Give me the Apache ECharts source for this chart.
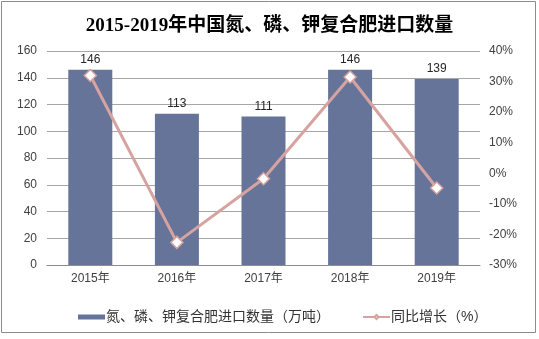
<!DOCTYPE html>
<html>
<head>
<meta charset="utf-8">
<script src="https://cdn.jsdelivr.net/npm/echarts@6/dist/echarts.min.js"></script>
<style>
  html, body { margin: 0; padding: 0; background: #fff; }
  #chart { width: 539px; height: 339px; }
</style>
</head>
<body>
<div id="chart"></div>
<script>
// Years shown on the category axis
const years = ['2015年', '2016年', '2017年', '2018年', '2019年'];
// Import volume, 10k tonnes
const importVolume = [146, 113, 111, 146, 139];
// Year-on-year growth, percent
const growthRate = [32, -22.6, -1.8, 31.5, -4.8];
// Axis tick settings
const leftAxis = { min: 0, max: 160, interval: 20 };
const rightAxis = { min: -30, max: 40, interval: 10 };

const barName = '氮、磷、钾复合肥进口数量（万吨）';
const lineName = '同比增长（%）';

const chart = echarts.init(document.getElementById('chart'), null, { renderer: 'canvas' });
const labelFont = 'Arial, "Liberation Sans", "Noto Sans CJK SC", sans-serif';

chart.setOption({
  animation: false,
  backgroundColor: '#ffffff',
  title: {
    text: '2015-2019年中国氮、磷、钾复合肥进口数量',
    left: 'center',
    top: 12,
    textStyle: {
      fontFamily: '"Liberation Serif", "Noto Sans CJK SC", serif',
      fontWeight: 'bold',
      fontSize: 19,
      color: '#000000'
    }
  },
  graphic: [{
    type: 'rect',
    shape: { x: 1.5, y: 1.5, width: 534, height: 331 },
    style: { fill: 'none', stroke: '#8c8c8c', lineWidth: 1 },
    silent: true
  }],
  grid: { left: 47, right: 59, top: 51, bottom: 74 },
  legend: {
    left: 73,
    top: 305,
    itemGap: 32,
    itemWidth: 27,
    itemHeight: 5,
    textStyle: { fontFamily: labelFont, fontSize: 14, color: '#333333', padding: [0, 0, 0, -4] },
    data: [
      { name: barName, icon: 'rect' },
      { name: lineName }
    ]
  },
  xAxis: {
    type: 'category',
    data: years,
    axisLine: { lineStyle: { color: '#8c8c8c' } },
    axisTick: { show: false },
    axisLabel: { fontFamily: labelFont, fontSize: 12, color: '#404040', margin: 8 }
  },
  yAxis: [
    {
      type: 'value',
      min: leftAxis.min, max: leftAxis.max, interval: leftAxis.interval,
      axisLine: { show: false },
      axisTick: { show: false },
      splitLine: { lineStyle: { color: '#a6a6a6', width: 1 } },
      axisLabel: { fontFamily: labelFont, fontSize: 12, color: '#404040', margin: 10 }
    },
    {
      type: 'value',
      min: rightAxis.min, max: rightAxis.max, interval: rightAxis.interval,
      axisLine: { show: false },
      axisTick: { show: false },
      splitLine: { show: false },
      axisLabel: { fontFamily: labelFont, fontSize: 12, color: '#404040', margin: 9, formatter: '{value}%' }
    }
  ],
  series: [
    {
      name: barName,
      type: 'bar',
      data: importVolume,
      barWidth: 44,
      itemStyle: { color: '#67749a' },
      label: {
        show: true,
        position: 'top',
        distance: 4,
        fontFamily: labelFont,
        fontSize: 12,
        color: '#262626'
      }
    },
    {
      name: lineName,
      type: 'line',
      yAxisIndex: 1,
      data: growthRate,
      symbol: 'diamond',
      symbolSize: 12,
      lineStyle: { color: '#d6a3a0', width: 3 },
      itemStyle: { color: '#ffffff', borderColor: '#d6a3a0', borderWidth: 1.5 },
      z: 3
    }
  ]
});
</script>
</body>
</html>
